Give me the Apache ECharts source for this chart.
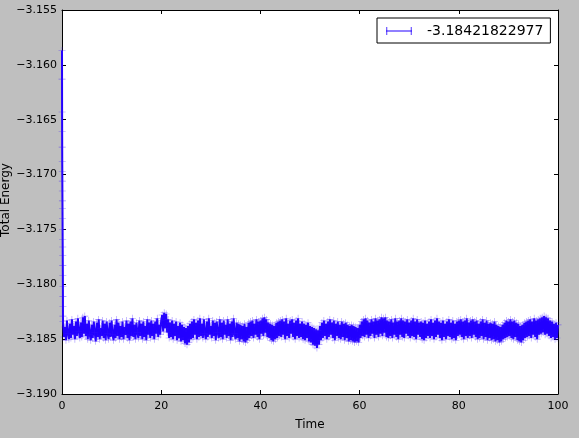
<!DOCTYPE html>
<html>
<head>
<meta charset="utf-8">
<script src="https://cdn.jsdelivr.net/npm/echarts@6/dist/echarts.min.js"></script>
<style>
html,body{margin:0;padding:0;background:#bfbfbf;}
#chart{width:579px;height:438px;}
</style>
</head>
<body>
<div id="chart"></div>
<script>
// Series label (legend text)
const seriesName = '-3.18421822977';
const xAxisTitle = 'Time';
const yAxisTitle = 'Total Energy';

// Initial transient: [time, total energy]
const transient = [
  [0.00, -3.1587], [0.01, -3.1613], [0.02, -3.1643], [0.03, -3.1661],
  [0.04, -3.1675], [0.05, -3.1688], [0.06, -3.1697], [0.07, -3.1706],
  [0.08, -3.1715], [0.09, -3.1724], [0.10, -3.1731], [0.11, -3.1740],
  [0.12, -3.1750], [0.13, -3.1759], [0.14, -3.1766], [0.15, -3.1774],
  [0.16, -3.1783], [0.17, -3.1792], [0.18, -3.1802], [0.185, -3.1811],
  [0.19, -3.1820], [0.195, -3.1829]
];

// Equilibrated band, sampled every bandStep time units starting at bandStart
const bandStart = 0.2;
const bandStep = 0.2;
const bandEnergy = [
  -3.1834,-3.1848,-3.1839,-3.1851,-3.1833,-3.1845,-3.1850,-3.1836,-3.1849,-3.1832,
  -3.1846,-3.1838,-3.1850,-3.1834,-3.1847,-3.1831,-3.1843,-3.1849,-3.1835,-3.1848,
  -3.1830,-3.1845,-3.1829,-3.1847,-3.1836,-3.1850,-3.1833,-3.1846,-3.1851,-3.1837,
  -3.1849,-3.1834,-3.1844,-3.1852,-3.1835,-3.1848,-3.1832,-3.1850,-3.1840,-3.1847,
  -3.1833,-3.1849,-3.1836,-3.1851,-3.1834,-3.1845,-3.1850,-3.1835,-3.1848,-3.1833,
  -3.1846,-3.1851,-3.1837,-3.1849,-3.1832,-3.1847,-3.1835,-3.1850,-3.1838,-3.1848,
  -3.1834,-3.1850,-3.1839,-3.1846,-3.1833,-3.1849,-3.1836,-3.1851,-3.1834,-3.1847,
  -3.1831,-3.1848,-3.1837,-3.1850,-3.1835,-3.1844,-3.1849,-3.1833,-3.1847,-3.1836,
  -3.1850,-3.1834,-3.1848,-3.1838,-3.1851,-3.1832,-3.1846,-3.1835,-3.1849,-3.1833,
  -3.1847,-3.1836,-3.1850,-3.1834,-3.1845,-3.1831,-3.1848,-3.1837,-3.1846,-3.1833,
  -3.1828,-3.1843,-3.1826,-3.1840,-3.1827,-3.1844,-3.1832,-3.1849,-3.1835,-3.1848,
  -3.1833,-3.1850,-3.1836,-3.1847,-3.1834,-3.1851,-3.1838,-3.1849,-3.1835,-3.1852,
  -3.1837,-3.1851,-3.1839,-3.1854,-3.1840,-3.1855,-3.1838,-3.1853,-3.1836,-3.1850,
  -3.1834,-3.1849,-3.1832,-3.1846,-3.1835,-3.1850,-3.1833,-3.1848,-3.1831,-3.1847,
  -3.1836,-3.1849,-3.1832,-3.1845,-3.1850,-3.1834,-3.1848,-3.1831,-3.1846,-3.1838,
  -3.1849,-3.1833,-3.1847,-3.1835,-3.1851,-3.1834,-3.1844,-3.1849,-3.1832,-3.1848,
  -3.1835,-3.1850,-3.1833,-3.1846,-3.1837,-3.1849,-3.1832,-3.1847,-3.1836,-3.1851,
  -3.1834,-3.1848,-3.1831,-3.1845,-3.1850,-3.1835,-3.1849,-3.1836,-3.1852,-3.1837,
  -3.1850,-3.1838,-3.1852,-3.1836,-3.1853,-3.1839,-3.1851,-3.1835,-3.1849,-3.1834,
  -3.1847,-3.1833,-3.1849,-3.1836,-3.1846,-3.1832,-3.1848,-3.1834,-3.1850,-3.1833,
  -3.1845,-3.1831,-3.1847,-3.1830,-3.1844,-3.1832,-3.1848,-3.1835,-3.1849,-3.1836,
  -3.1851,-3.1837,-3.1852,-3.1838,-3.1850,-3.1835,-3.1849,-3.1834,-3.1847,-3.1833,
  -3.1848,-3.1832,-3.1846,-3.1834,-3.1850,-3.1831,-3.1847,-3.1836,-3.1849,-3.1833,
  -3.1845,-3.1832,-3.1848,-3.1835,-3.1850,-3.1833,-3.1847,-3.1831,-3.1849,-3.1836,
  -3.1848,-3.1834,-3.1850,-3.1836,-3.1851,-3.1837,-3.1849,-3.1835,-3.1852,-3.1838,
  -3.1853,-3.1839,-3.1855,-3.1840,-3.1856,-3.1841,-3.1858,-3.1842,-3.1855,-3.1838,
  -3.1851,-3.1835,-3.1849,-3.1833,-3.1847,-3.1836,-3.1850,-3.1834,-3.1848,-3.1832,
  -3.1846,-3.1835,-3.1849,-3.1833,-3.1851,-3.1836,-3.1847,-3.1834,-3.1849,-3.1837,
  -3.1850,-3.1834,-3.1848,-3.1836,-3.1851,-3.1835,-3.1849,-3.1837,-3.1852,-3.1838,
  -3.1851,-3.1837,-3.1852,-3.1838,-3.1853,-3.1839,-3.1852,-3.1840,-3.1853,-3.1837,
  -3.1849,-3.1834,-3.1847,-3.1832,-3.1848,-3.1831,-3.1846,-3.1833,-3.1849,-3.1835,
  -3.1847,-3.1832,-3.1845,-3.1834,-3.1849,-3.1831,-3.1846,-3.1833,-3.1848,-3.1832,
  -3.1845,-3.1830,-3.1847,-3.1831,-3.1844,-3.1830,-3.1848,-3.1833,-3.1849,-3.1834,
  -3.1847,-3.1832,-3.1849,-3.1835,-3.1846,-3.1831,-3.1848,-3.1834,-3.1850,-3.1833,
  -3.1846,-3.1831,-3.1848,-3.1833,-3.1849,-3.1834,-3.1845,-3.1832,-3.1847,-3.1835,
  -3.1849,-3.1833,-3.1847,-3.1831,-3.1848,-3.1834,-3.1850,-3.1832,-3.1846,-3.1835,
  -3.1848,-3.1834,-3.1850,-3.1835,-3.1851,-3.1833,-3.1849,-3.1836,-3.1847,-3.1834,
  -3.1849,-3.1832,-3.1847,-3.1835,-3.1850,-3.1833,-3.1848,-3.1831,-3.1846,-3.1834,
  -3.1849,-3.1835,-3.1851,-3.1833,-3.1848,-3.1836,-3.1850,-3.1834,-3.1847,-3.1832,
  -3.1848,-3.1835,-3.1850,-3.1833,-3.1849,-3.1836,-3.1851,-3.1834,-3.1847,-3.1833,
  -3.1846,-3.1832,-3.1848,-3.1834,-3.1850,-3.1833,-3.1847,-3.1831,-3.1849,-3.1835,
  -3.1847,-3.1833,-3.1849,-3.1832,-3.1846,-3.1834,-3.1848,-3.1833,-3.1850,-3.1836,
  -3.1849,-3.1834,-3.1847,-3.1832,-3.1850,-3.1835,-3.1848,-3.1833,-3.1851,-3.1836,
  -3.1849,-3.1835,-3.1851,-3.1836,-3.1850,-3.1834,-3.1852,-3.1837,-3.1851,-3.1838,
  -3.1853,-3.1839,-3.1852,-3.1837,-3.1850,-3.1835,-3.1849,-3.1833,-3.1848,-3.1834,
  -3.1847,-3.1832,-3.1849,-3.1834,-3.1850,-3.1833,-3.1848,-3.1835,-3.1851,-3.1836,
  -3.1852,-3.1838,-3.1853,-3.1837,-3.1851,-3.1835,-3.1849,-3.1834,-3.1848,-3.1833,
  -3.1847,-3.1832,-3.1849,-3.1834,-3.1846,-3.1831,-3.1848,-3.1833,-3.1850,-3.1832,
  -3.1846,-3.1831,-3.1845,-3.1830,-3.1844,-3.1829,-3.1846,-3.1830,-3.1845,-3.1831,
  -3.1847,-3.1833,-3.1849,-3.1834,-3.1848,-3.1836,-3.1850,-3.1835,-3.1849,-3.1837
];

// Axis tick settings
const xTicks = { min: 0, max: 100, interval: 20 };
const yTicks = { min: -3.190, max: -3.155, interval: 0.005 };

const seriesData = transient.concat(
  bandEnergy.map((e, i) => [+(bandStart + i * bandStep).toFixed(2), e])
);

const FONT = 'DejaVu Sans';
const plusPath = 'path://M4.6,0H5.4V10H4.6ZM0,4.6H10V5.4H0Z';
const legendIcon = 'path://M0,3.6H26V4.4H0ZM0.4,0H1.2V8H0.4ZM24.8,0H25.6V8H24.8Z';

const tickStyle = { show: true, inside: true, length: 4, lineStyle: { color: '#000', width: 1 } };
const axisLine = { show: true, onZero: false, lineStyle: { color: '#000', width: 1 } };

const chart = echarts.init(document.getElementById('chart'), null, { renderer: 'canvas' });
chart.setOption({
  backgroundColor: '#bfbfbf',
  animation: false,
  textStyle: { fontFamily: FONT },
  grid: {
    left: 62, top: 10, width: 496, height: 384,
    containLabel: false, outerBoundsMode: 'none',
    show: true, backgroundColor: '#ffffff', borderWidth: 0
  },
  graphic: [{
    type: 'text', x: 6, y: 200, rotation: Math.PI / 2, silent: true,
    style: { text: yAxisTitle, fill: '#000', font: '12px "DejaVu Sans"', textAlign: 'center', textVerticalAlign: 'middle' }
  }],
  legend: {
    left: 377, top: 18,
    backgroundColor: '#ffffff',
    borderColor: '#000', borderWidth: 1, borderRadius: 0,
    padding: [6, 7, 5, 9],
    itemWidth: 26, itemHeight: 8,
    textStyle: { fontFamily: FONT, fontSize: 14, color: '#000', padding: [0, 0, 0, 10] },
    data: [{ name: seriesName, icon: legendIcon, itemStyle: { color: '#2200ff' } }],
    selectedMode: false
  },
  xAxis: [{
    type: 'value', position: 'bottom', min: xTicks.min, max: xTicks.max, interval: xTicks.interval,
    name: xAxisTitle, nameLocation: 'middle', nameGap: 25,
    nameTextStyle: { fontFamily: FONT, fontSize: 12, color: '#000' },
    axisLine: axisLine, axisTick: tickStyle, splitLine: { show: false },
    axisLabel: { fontFamily: FONT, fontSize: 11, color: '#000', margin: 7 }
  }, {
    type: 'value', position: 'top', min: xTicks.min, max: xTicks.max, interval: xTicks.interval,
    axisLine: axisLine, axisTick: tickStyle, splitLine: { show: false },
    axisLabel: { show: false }
  }],
  yAxis: [{
    type: 'value', position: 'left', min: yTicks.min, max: yTicks.max, interval: yTicks.interval,
    axisLine: axisLine, axisTick: tickStyle, splitLine: { show: false },
    axisLabel: {
      fontFamily: FONT, fontSize: 11, color: '#000', margin: 5,
      formatter: v => v.toFixed(3).replace('-', '\u2212')
    }
  }, {
    type: 'value', position: 'right', min: yTicks.min, max: yTicks.max, interval: yTicks.interval,
    axisLine: axisLine, axisTick: tickStyle, splitLine: { show: false },
    axisLabel: { show: false }
  }],
  series: [{
    name: seriesName,
    type: 'line',
    data: seriesData,
    xAxisIndex: 0, yAxisIndex: 0,
    symbol: plusPath, symbolSize: 7, showSymbol: true, showAllSymbol: true,
    itemStyle: { color: 'rgba(60,20,255,0.5)' },
    lineStyle: { color: '#2200ff', width: 2 },
    silent: true, clip: true
  }]
});
</script>
</body>
</html>
